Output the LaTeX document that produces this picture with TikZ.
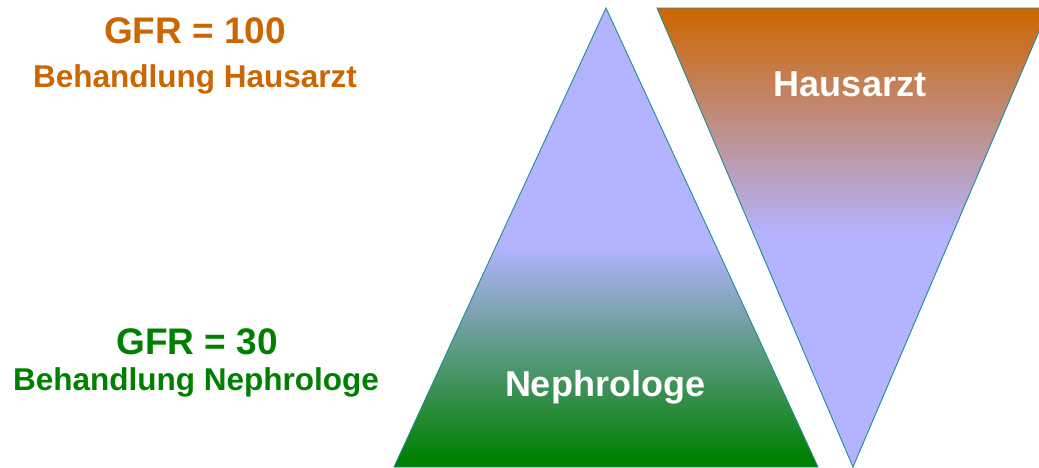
\documentclass[tikz,border=0pt]{standalone}
\usepackage{fontspec}
\setmainfont{Liberation Sans}
\definecolor{lav}{HTML}{B3B3FF}
\definecolor{ngreen}{HTML}{007F00}
\definecolor{horange}{HTML}{CC6600}
\definecolor{tgreen}{HTML}{008000}
\definecolor{edge}{HTML}{208C94}
\pgfdeclareverticalshading{nephro}{100bp}{color(0bp)=(ngreen); color(25.8bp)=(ngreen); color(49bp)=(lav); color(100bp)=(lav)}
\pgfdeclareverticalshading{haus}{100bp}{color(0bp)=(lav); color(50.5bp)=(lav); color(75bp)=(horange); color(100bp)=(horange)}
\tikzset{
  tri/.style={draw=edge, line width=0.9pt, line join=miter},
  bigtxt/.style={anchor=base, inner sep=0pt, font=\bfseries\fontsize{36}{40}\selectfont},
  gfrtxt/.style={anchor=base, inner sep=0pt, font=\bfseries\fontsize{37}{41}\selectfont},
  smalltxt/.style={anchor=base, inner sep=0pt, font=\bfseries\fontsize{31.5}{35}\selectfont},
}
\begin{document}
\begin{tikzpicture}[x=1pt,y=-1pt]
\useasboundingbox (0,0) rectangle (1039,467);
\fill[white] (0,0) rectangle (1039,467);
% triangles
\draw[tri, shading=nephro] (606,8) -- (818,467) -- (394,467) -- cycle;
\draw[tri, shading=haus] (657,8) -- (1049,8) -- (853,467) -- cycle;
% labels
\node[gfrtxt, text=horange] (gfr100) at (195,43) {GFR = 100};
\node[smalltxt, text=horange] (bhaus) at (195,87.5) {Behandlung Hausarzt};
\node[gfrtxt, text=tgreen] (gfr30) at (197,354) {GFR = 30};
\node[smalltxt, text=tgreen] (bneph) at (196,390) {Behandlung Nephrologe};
\node[bigtxt, text=white] (haus) at (850,96) {Hausarzt};
\node[bigtxt, text=white] (neph) at (605,396) {Nephrologe};
\end{tikzpicture}
\end{document}
